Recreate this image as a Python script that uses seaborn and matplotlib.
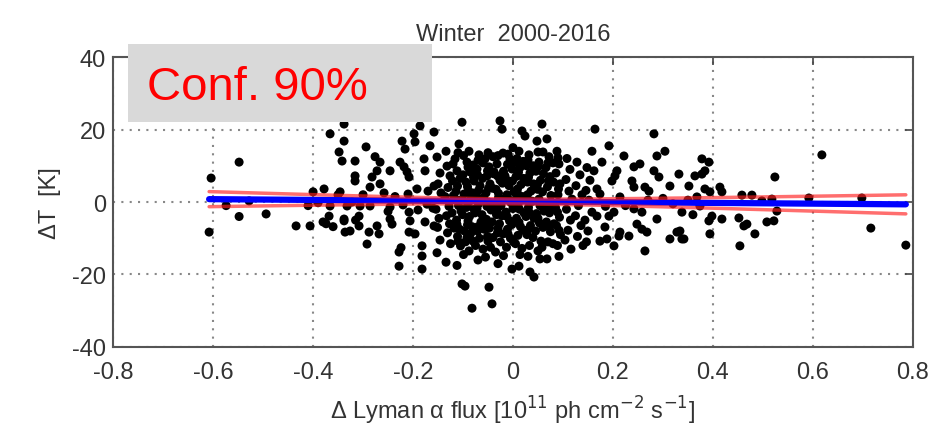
#!/usr/bin/env python3
# -*- coding: utf8 -*-

import numpy as np
import pandas as pd
import seaborn as sns
import matplotlib.pyplot as plt
from matplotlib.patches import Rectangle

# (delta Lyman-alpha flux, delta T) pairs, by region
left_pts = [
    (-0.604, 6.6), (-0.548, 11.0), (-0.574, -1.0), (-0.548, -4.0), (-0.494, -3.3),
    (-0.608, -8.3), (-0.528, 0.3), (-0.434, -6.6), (-0.406, -6.6), (-0.410, -1.0),
]

mid_left_pts = [
    (-0.400, 2.8), (-0.378, 3.6), (-0.380, -5.5), (-0.368, -3.9), (-0.374, -6.0),
    (-0.366, 18.8), (-0.338, 16.8), (-0.348, 13.8), (-0.342, 11.3), (-0.346, 2.8),
    (-0.366, -1.1), (-0.338, -5.2), (-0.336, -8.3), (-0.338, 21.5), (-0.316, 11.3),
    (-0.294, 15.2), (-0.316, 7.2), (-0.316, 5.8), (-0.266, 11.0), (-0.272, 8.6),
    (-0.282, 6.9), (-0.286, 4.1), (-0.266, 5.0), (-0.246, 8.6), (-0.226, 11.0),
    (-0.218, 9.7), (-0.212, 8.3), (-0.208, 6.9), (-0.222, 16.8), (-0.216, 14.6),
    (-0.198, 18.8), (-0.196, 16.6), (-0.186, 21.0), (-0.166, 15.5), (-0.178, 11.9),
    (-0.176, 8.6), (-0.192, 3.6), (-0.158, 4.4), (-0.332, -1.1), (-0.322, 0.0),
    (-0.306, -1.1), (-0.286, -1.1), (-0.338, -4.7), (-0.326, -8.0), (-0.308, -3.9),
    (-0.308, -6.6), (-0.288, -8.3), (-0.292, -11.6), (-0.272, -6.6), (-0.268, -8.8),
    (-0.246, -4.7), (-0.242, -6.1), (-0.246, -1.4), (-0.228, -13.8), (-0.228, -17.7),
    (-0.224, -12.6), (-0.208, -2.8), (-0.206, -5.2), (-0.208, -8.3), (-0.196, -8.8),
    (-0.182, -12.1), (-0.182, -14.9), (-0.182, -18.5), (-0.176, -5.5), (-0.158, -6.6),
    (-0.172, -0.6), (-0.300, 2.0), (-0.258, 2.5), (-0.236, 1.5), (-0.210, 2.2),
    (-0.170, 3.0), (-0.250, -2.6), (-0.220, -0.8), (-0.190, -2.2), (-0.160, -1.7),
    (-0.350, 2.0), (-0.390, -0.2), (-0.360, -6.8), (-0.315, -5.0), (-0.276, 12.5),
]

core_left_pts = [
    (-0.152, 12.4), (-0.146, 8.0), (-0.150, 5.0), (-0.144, 2.5), (-0.154, -2.0),
    (-0.148, -4.5), (-0.151, -7.0), (-0.146, -10.5), (-0.152, -14.0),
    (-0.158, 19.3), (-0.134, 14.0), (-0.132, 9.9), (-0.126, 7.2), (-0.130, 4.0),
    (-0.136, 1.5), (-0.128, -1.2), (-0.133, -3.8), (-0.127, -6.0), (-0.131, -8.5),
    (-0.125, -11.5), (-0.134, -16.6),
    (-0.108, 16.0), (-0.116, 11.9), (-0.112, 8.6), (-0.106, 6.5), (-0.114, 3.0),
    (-0.109, 0.5), (-0.104, -2.5), (-0.113, -5.0), (-0.107, -7.5), (-0.111, -9.5),
    (-0.105, -12.1), (-0.112, -17.5), (-0.102, -22.6),
    (-0.102, 22.0), (-0.088, 14.0), (-0.092, 11.0), (-0.086, 8.3), (-0.094, 5.5),
    (-0.089, 3.0), (-0.084, 1.0), (-0.093, -1.5), (-0.087, -4.0), (-0.091, -6.3),
    (-0.085, -8.8), (-0.095, -11.0), (-0.088, -13.5), (-0.096, -23.2),
    (-0.068, 13.0), (-0.072, 9.1), (-0.078, 5.8), (-0.066, 4.5), (-0.074, 2.0),
    (-0.069, -0.5), (-0.076, -3.0), (-0.064, -5.5), (-0.071, -8.0), (-0.067, -10.0),
    (-0.075, -12.0), (-0.070, -16.0), (-0.082, -29.3),
    (-0.056, 11.9), (-0.048, 9.7), (-0.052, 7.2), (-0.046, 5.0), (-0.054, 2.5),
    (-0.049, 0.0), (-0.044, -2.2), (-0.053, -4.8), (-0.047, -7.2), (-0.051, -9.5),
    (-0.045, -12.5), (-0.055, -15.2), (-0.048, -23.5), (-0.042, -28.1),
]

core_right_pts = [
    (-0.026, 22.4), (-0.022, 20.1), (-0.032, 10.5), (-0.038, 8.3), (-0.026, 6.0),
    (-0.034, 3.5), (-0.029, 1.2), (-0.024, -1.0), (-0.033, -3.5), (-0.027, -6.0),
    (-0.031, -8.5), (-0.025, -11.0), (-0.035, -13.8), (-0.030, -17.0),
    (-0.006, 11.9), (-0.002, 9.1), (-0.016, 7.2), (-0.008, 4.5), (-0.012, 2.0),
    (-0.004, -0.2), (-0.014, -2.8), (-0.007, -5.2), (-0.011, -7.5), (-0.005, -10.0),
    (-0.013, -12.5), (-0.002, -18.5),
    (0.018, 19.6), (0.012, 14.0), (0.008, 12.0), (0.014, 9.5), (0.006, 7.0),
    (0.016, 4.8), (0.009, 2.4), (0.004, 0.5), (0.013, -2.0), (0.007, -4.5),
    (0.015, -6.8), (0.010, -9.2), (0.005, -11.5), (0.014, -14.5), (0.012, -17.7),
    (0.024, 18.2), (0.032, 13.0), (0.027, 10.0), (0.034, 8.0), (0.029, 5.5),
    (0.036, 3.0), (0.025, 1.0), (0.031, -1.5), (0.026, -4.0), (0.035, -6.5),
    (0.028, -9.0), (0.033, -12.0), (0.030, -15.0), (0.034, -19.3),
    (0.058, 21.5), (0.048, 16.8), (0.052, 11.0), (0.046, 8.5), (0.055, 6.0),
    (0.049, 3.5), (0.054, -1.0), (0.047, -3.2), (0.053, -5.8), (0.045, -8.0),
    (0.056, -10.8), (0.050, -13.5), (0.054, -15.7), (0.042, -20.7),
    (0.068, 17.4), (0.072, 12.5), (0.066, 9.5), (0.074, 7.0), (0.069, 4.2),
    (0.076, 1.8), (0.065, -0.8), (0.073, -3.0), (0.067, -5.5), (0.075, -8.2),
    (0.070, -11.0), (0.068, -15.7),
    (0.088, 14.0), (0.092, 10.5), (0.086, 8.0), (0.094, 5.0), (0.090, 2.0),
    (0.085, -1.5), (0.093, -4.2), (0.087, -6.5), (0.095, -9.0), (0.089, -12.0),
    (0.092, -15.0),
    (0.108, 12.0), (0.114, 9.0), (0.106, 6.2), (0.112, 3.0), (0.118, 0.8),
    (0.107, -2.0), (0.115, -5.0), (0.110, -7.8), (0.104, -10.5), (0.116, -13.0),
    (0.128, 11.0), (0.134, 7.5), (0.126, 4.5), (0.138, 2.0), (0.131, -1.0),
    (0.125, -3.8), (0.136, -6.5), (0.129, -9.5), (0.140, -12.0),
    (0.158, 14.0), (0.148, 9.5), (0.154, 6.0), (0.146, 3.2), (0.152, 0.5),
    (0.158, -2.8), (0.144, -5.0), (0.150, -8.0), (0.147, -11.0),
]

core_fill_pts = [
    (-0.120, 10.5), (-0.121, 5.8), (-0.119, 1.8), (-0.122, -3.0), (-0.118, -7.2),
    (-0.099, 12.8), (-0.100, 7.5), (-0.098, 2.2), (-0.101, -3.5), (-0.097, -8.0),
    (-0.099, -14.5), (-0.080, 10.2), (-0.079, 6.8), (-0.081, 2.5), (-0.078, -2.0),
    (-0.082, -6.8), (-0.080, -10.8), (-0.060, 10.8), (-0.061, 6.5), (-0.059, 1.2),
    (-0.062, -3.5), (-0.058, -7.5), (-0.060, -13.0), (-0.040, 12.5), (-0.039, 7.8),
    (-0.041, 3.8), (-0.038, -0.5), (-0.042, -5.5), (-0.040, -9.8), (-0.020, 13.5),
    (-0.019, 8.5), (-0.021, 5.2), (-0.018, 0.8), (-0.022, -3.8), (-0.020, -8.8),
    (-0.019, -14.8), (0.000, 15.0), (0.001, 10.8), (-0.001, 5.8), (0.002, 2.8),
    (0.000, -1.8), (-0.002, -6.2), (0.001, -11.0), (0.020, 11.2), (0.021, 6.5),
    (0.019, 1.5), (0.022, -3.0), (0.020, -7.8), (0.018, -12.8), (0.040, 10.0),
    (0.041, 5.0), (0.039, 0.2), (0.042, -4.5), (0.040, -9.8), (0.060, 13.8),
    (0.061, 7.8), (0.059, 2.8), (0.062, -2.5), (0.060, -7.0), (0.058, -12.5),
    (0.080, 10.8), (0.081, 5.5), (0.079, -0.5), (0.082, -6.0), (0.080, -11.5),
]

# extra points where the centre of the cloud is nearly solid black
core_dense_pts = [
    (-0.110, 13.6), (-0.111, 4.4), (-0.109, -1.0), (-0.112, -6.2), (-0.110, -10.8),
    (-0.090, 9.6), (-0.091, 4.2), (-0.089, -0.2), (-0.090, -5.2), (-0.092, -9.8),
    (-0.070, 11.5), (-0.071, 7.5), (-0.069, 3.2), (-0.072, -1.8), (-0.070, -6.8),
    (-0.050, 13.6), (-0.051, 8.6), (-0.049, 3.8), (-0.052, -1.2), (-0.050, -6.0),
    (-0.050, -10.8), (-0.030, 12.8), (-0.031, 7.2), (-0.029, 2.4), (-0.032, -2.4),
    (-0.030, -7.2), (-0.010, 13.2), (-0.011, 10.4), (-0.009, 5.8), (-0.010, 0.9),
    (-0.012, -4.0), (-0.010, -8.8), (0.010, 10.8), (0.011, 8.2), (0.009, 3.6),
    (0.010, -0.8), (0.012, -5.6), (0.030, 11.6), (0.031, 6.8), (0.029, 2.0),
    (0.032, -2.8), (0.030, -7.6), (0.050, 13.8), (0.051, 9.8), (0.049, 4.8),
    (0.052, 0.8), (0.050, -4.5), (0.070, 10.8), (0.071, 5.8), (0.069, -1.8),
    (0.072, -6.8), (0.090, 12.2), (0.091, 3.6), (0.089, -2.8), (0.092, -7.8),
]

mid_right_pts = [
    (0.164, 20.1), (0.192, 15.5), (0.222, 12.7), (0.282, 18.8), (0.288, 12.7),
    (0.304, 14.0), (0.178, 11.0), (0.242, 9.7), (0.254, 10.5), (0.162, 8.6),
    (0.208, 8.6), (0.204, 7.2), (0.198, 5.8), (0.282, 8.6), (0.292, 6.9),
    (0.332, 7.7), (0.238, 5.8), (0.242, 4.1), (0.264, 4.1), (0.272, 3.0),
    (0.314, 4.4), (0.168, 3.6), (0.174, 2.2), (0.214, 1.4), (0.168, -3.9),
    (0.192, -3.9), (0.202, -2.8), (0.242, -1.9), (0.258, -2.8), (0.288, -4.7),
    (0.338, -2.8), (0.184, -6.9), (0.214, -8.3), (0.212, -9.4), (0.232, -9.4),
    (0.248, -6.1), (0.258, -7.5), (0.268, -8.3), (0.174, -10.8), (0.188, -10.2),
    (0.202, -12.1), (0.264, -13.5), (0.314, -10.2), (0.328, -8.3), (0.338, -10.2),
    (0.225, -1.0), (0.300, 1.0), (0.320, -0.5), (0.185, -1.2), (0.270, 0.5),
]

right_pts = [
    (0.378, 11.9), (0.392, 11.0), (0.364, 7.2), (0.378, 7.7), (0.384, 8.6),
    (0.524, 6.9), (0.352, 4.4), (0.384, 3.6), (0.394, 2.8), (0.414, 4.1),
    (0.418, 2.8), (0.368, 1.4), (0.458, 1.9), (0.478, 1.9), (0.498, 0.3),
    (0.518, 0.8), (0.374, -1.1), (0.528, -2.5), (0.398, -3.9), (0.392, -5.2),
    (0.418, -4.7), (0.452, -4.4), (0.462, -6.6), (0.468, -6.1), (0.508, -5.5),
    (0.522, -5.2), (0.334, -8.0), (0.342, -10.2), (0.394, -8.8), (0.484, -8.8),
    (0.454, -12.1), (0.360, -3.5), (0.350, 0.5),
]

far_right_pts = [
    (0.618, 13.0), (0.592, 1.1), (0.698, 1.1), (0.716, -7.2), (0.786, -11.9),
]

x_ticks = [-0.8, -0.6, -0.4, -0.2, 0, 0.2, 0.4, 0.6, 0.8]
x_tick_labels = ['-0.8', '-0.6', '-0.4', '-0.2', '0', '0.2', '0.4', '0.6', '0.8']
y_ticks = [-40, -20, 0, 20, 40]
y_tick_labels = ['-40', '-20', '0', '20', '40']

title = 'Winter  2000-2016'
xlabel = 'Δ Lyman α flux [10$^{11}$ ph cm$^{-2}$ s$^{-1}$]'
ylabel = 'ΔT  [K]'
conf_label = 'Conf. 90%'
z90 = 1.645

all_pts = (left_pts + mid_left_pts + core_left_pts + core_right_pts +
           core_fill_pts + core_dense_pts + mid_right_pts + right_pts +
           far_right_pts)
df = pd.DataFrame(all_pts, columns=['flux', 'dT'])

sns.set_style('white')
plt.rcParams['font.family'] = ['Liberation Sans', 'DejaVu Sans']

fig = plt.figure(figsize=(9.43, 4.31), dpi=100)
ax = fig.add_axes([0.12, 0.1926, 0.848, 0.6728])

sns.scatterplot(data=df, x='flux', y='dT', color='black', s=42,
                edgecolor='none', ax=ax, zorder=3)
sns.regplot(data=df, x='flux', y='dT', scatter=False, ci=None,
            color='#0000ff', line_kws=dict(lw=4.5, zorder=4), ax=ax)

# 90% confidence band of the linear fit
x = df['flux'].values
y = df['dT'].values
n = len(x)
b, a = np.polyfit(x, y, 1)
s = np.sqrt(np.sum((y - (a + b * x)) ** 2) / (n - 2))
xs = np.linspace(x.min(), x.max(), 100)
se = s * np.sqrt(1 / n + (xs - x.mean()) ** 2 / np.sum((x - x.mean()) ** 2))
fit = a + b * xs
for sign in (1, -1):
    ax.plot(xs, fit + sign * z90 * se, color='#ff2020', lw=2.5, alpha=0.65,
            zorder=5)

ax.set_xlim(-0.8, 0.8)
ax.set_ylim(-40, 40)
ax.set_xticks(x_ticks)
ax.set_xticklabels(x_tick_labels)
ax.set_yticks(y_ticks)
ax.set_yticklabels(y_tick_labels)
ax.grid(True, linestyle=(0, (1, 3)), color='#888888', lw=1.5)
ax.tick_params(direction='in', length=6, width=1.2, colors='#444444',
               labelcolor='#333333', labelsize=17, top=True, right=True,
               pad=5)
ax.tick_params(axis='x', pad=10)
for sp in ax.spines.values():
    sp.set_color('#555555')
    sp.set_linewidth(1.5)

ax.set_xlabel(xlabel, fontsize=17, color='#333333', labelpad=8)
ax.set_ylabel(ylabel, fontsize=17, color='#333333', labelpad=8)
ax.set_title(title, fontsize=17, color='#333333', pad=12)

fig.add_artist(Rectangle((0.1357, 0.7146), 0.3224, 0.181,
                         transform=fig.transFigure, facecolor='#d9d9d9',
                         edgecolor='none', zorder=10))
fig.text(0.156, 0.796, conf_label, color='red', fontsize=34,
         ha='left', va='center', zorder=11)

plt.savefig('out.png', dpi=100)
